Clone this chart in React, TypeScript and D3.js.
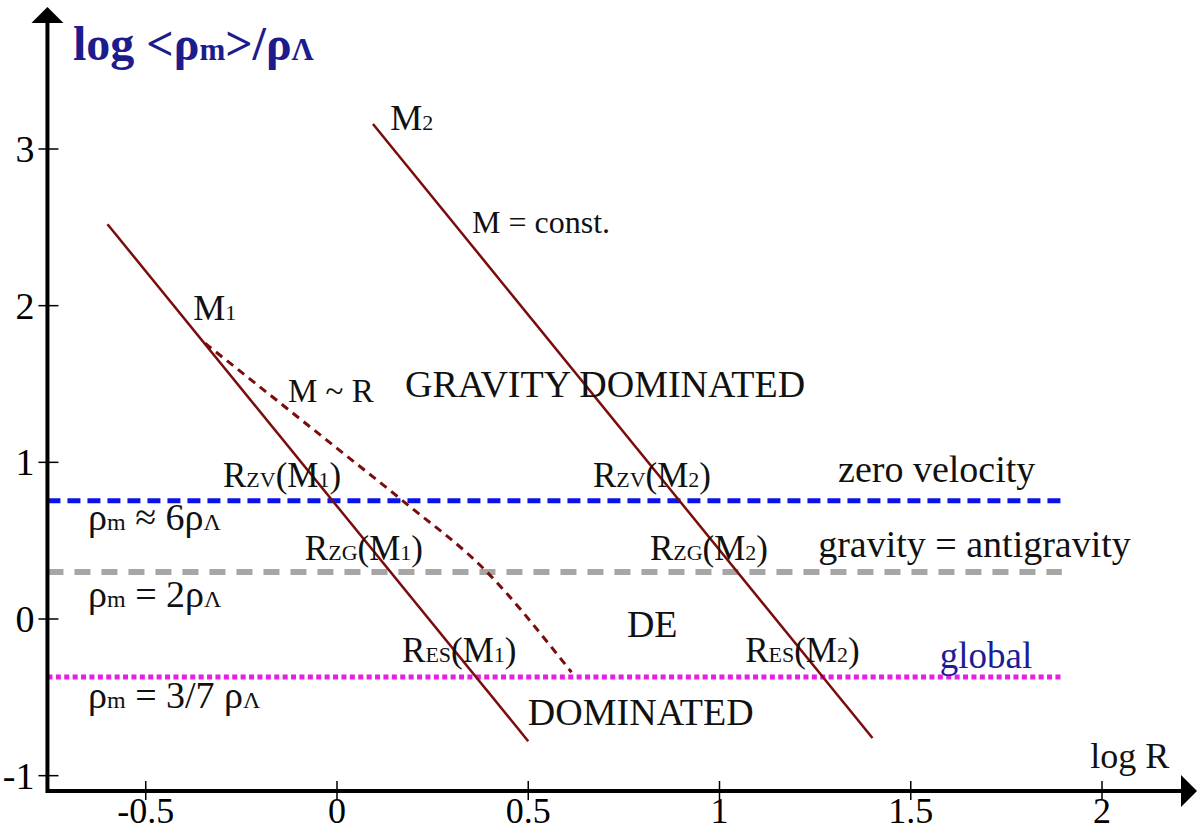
import React from 'react';
import * as d3 from 'd3';

// axis ticks
const xTicks = [-0.5, 0, 0.5, 1, 1.5, 2];
const yTicks = [-1, 0, 1, 2, 3];

// M = const. lines (slope -3 in log-log)
const m1Line = [[-0.6, 2.52], [0.5, -0.78]];
const m2Line = [[0.094, 3.16], [1.4, -0.76]];
// M ~ R curve, dashed
const mrCurve = [[-0.345, 1.76], [-0.026, 1.14], [0.172, 0.754], [0.392, 0.3], [0.574, -0.22], [0.613, -0.34]];

// density levels
const levelNames = ['zero velocity', 'gravity = antigravity', 'global'];
const levelValues = [0.754, 0.3, -0.37];
const levelStart = -0.757;
const levelEnd = 1.895;

// annotations: [x, y, size, parts] parts: [text, small?]
type Part = [string, boolean?];
const labels: { x: number; y: number; size: number; parts: Part[]; color?: string }[] = [
  { x: 0.139, y: 3.12, size: 36, parts: [['M'], ['2', true]] },
  { x: 0.353, y: 2.464, size: 32, parts: [['M = const.']] },
  { x: -0.376, y: 1.908, size: 36, parts: [['M'], ['1', true]] },
  { x: -0.128, y: 1.385, size: 33, parts: [['M ~ R']] },
  { x: 0.178, y: 1.417, size: 38, parts: [['GRAVITY DOMINATED']] },
  { x: -0.298, y: 0.843, size: 35, parts: [['R'], ['ZV', true], ['(M'], ['1', true], [')']] },
  { x: 0.669, y: 0.843, size: 35, parts: [['R'], ['ZV', true], ['(M'], ['2', true], [')']] },
  { x: 1.31, y: 0.874, size: 38, parts: [['zero velocity']] },
  { x: -0.651, y: 0.568, size: 38, parts: [['ρ'], ['m', true], [' ≈ 6ρ'], ['Λ', true]] },
  { x: -0.084, y: 0.377, size: 35, parts: [['R'], ['ZG', true], ['(M'], ['1', true], [')']] },
  { x: 0.818, y: 0.377, size: 35, parts: [['R'], ['ZG', true], ['(M'], ['2', true], [')']] },
  { x: 1.258, y: 0.396, size: 38, parts: [['gravity = antigravity']] },
  { x: -0.651, y: 0.077, size: 38, parts: [['ρ'], ['m', true], [' = 2ρ'], ['Λ', true]] },
  { x: 0.758, y: -0.115, size: 38, parts: [['DE']] },
  { x: 0.17, y: -0.274, size: 35, parts: [['R'], ['ES', true], ['(M'], ['1', true], [')']] },
  { x: 1.067, y: -0.274, size: 35, parts: [['R'], ['ES', true], ['(M'], ['2', true], [')']] },
  { x: 1.576, y: -0.313, size: 37, parts: [['global']], color: '#1c1c96' },
  { x: -0.651, y: -0.568, size: 38, parts: [['ρ'], ['m', true], [' = 3/7 ρ'], ['Λ', true]] },
  { x: 0.499, y: -0.677, size: 38, parts: [['DOMINATED']] },
  { x: 1.969, y: -0.951, size: 36, parts: [['log R']] },
];

const App = () => {
  const width = 1200;
  const height = 833;

  const x = d3.scaleLinear().domain([0, 2]).range([337, 1102]);
  const y = d3.scaleLinear().domain([0, 3]).range([619, 149]);

  const axisX = x(levelStart);
  const axisY = 791;

  const line = d3.line<number[]>().x(d => x(d[0])).y(d => y(d[1]));
  const curve = d3.line<number[]>().x(d => x(d[0])).y(d => y(d[1])).curve(d3.curveMonotoneX);

  const levelStyles = [
    { stroke: '#0a14e6', width: 5, dash: '13 7' },
    { stroke: '#a6a6a6', width: 6, dash: '16 11' },
    { stroke: '#e61ee6', width: 5, dash: '5 3.4' },
  ];

  const red = '#7a0c0c';

  return (
    <svg width={width} height={height} style={{ position: 'absolute', left: 0, top: 0, background: '#fff' }}>
      <style>{`text { font-family: 'Liberation Serif', 'Times New Roman', 'DejaVu Serif', serif; }`}</style>
      {/* density levels */}
      {levelValues.map((v, i) => (
        <line key={levelNames[i]} x1={axisX} x2={x(levelEnd)} y1={y(v)} y2={y(v)}
          stroke={levelStyles[i].stroke} strokeWidth={levelStyles[i].width} strokeDasharray={levelStyles[i].dash} />
      ))}

      {/* mass lines */}
      <path d={line(m1Line) || ''} fill="none" stroke={red} strokeWidth={2.5} />
      <path d={line(m2Line) || ''} fill="none" stroke={red} strokeWidth={2.5} />
      <path d={curve(mrCurve) || ''} fill="none" stroke={red} strokeWidth={3} strokeDasharray="8 6" />

      {/* axes */}
      <line x1={axisX} x2={1182} y1={axisY} y2={axisY} stroke="#000" strokeWidth={4} />
      <path d={`M1181,775 L1197,${axisY} L1181,807 Z`} fill="#000" />
      <line x1={axisX} x2={axisX} y1={axisY + 2} y2={22} stroke="#000" strokeWidth={4} />
      <path d={`M${axisX - 16},23 L${axisX},7 L${axisX + 16},23 Z`} fill="#000" />

      {xTicks.map(t => (
        <g key={'x' + t}>
          <line x1={x(t)} x2={x(t)} y1={axisY - 10} y2={axisY + 9} stroke="#000" strokeWidth={1.5} />
          <text x={x(t)} y={823} fontSize={36} textAnchor="middle">{t}</text>
        </g>
      ))}
      {yTicks.map(t => (
        <g key={'y' + t}>
          <line x1={axisX - 9} x2={axisX + 11} y1={y(t)} y2={y(t)} stroke="#000" strokeWidth={1.5} />
          <text x={axisX - 13} y={y(t) + 13} fontSize={38} textAnchor="end">{t}</text>
        </g>
      ))}

      {/* y-axis title */}
      <text x={73} y={60} fontSize={48} fontWeight="bold" fill="#1c1c8c">
        log &lt;ρ<tspan fontSize={31}>m</tspan>&gt;/ρ<tspan fontSize={31}>Λ</tspan>
      </text>

      {/* annotations */}
      {labels.map((l, i) => (
        <text key={i} x={x(l.x)} y={y(l.y)} fontSize={l.size} fill={l.color || '#111'}>
          {l.parts.map((p, j) => (
            <tspan key={j} fontSize={p[1] ? Math.round(l.size * 0.62) : l.size}>{p[0]}</tspan>
          ))}
        </text>
      ))}
    </svg>
  );
};

export default App;
